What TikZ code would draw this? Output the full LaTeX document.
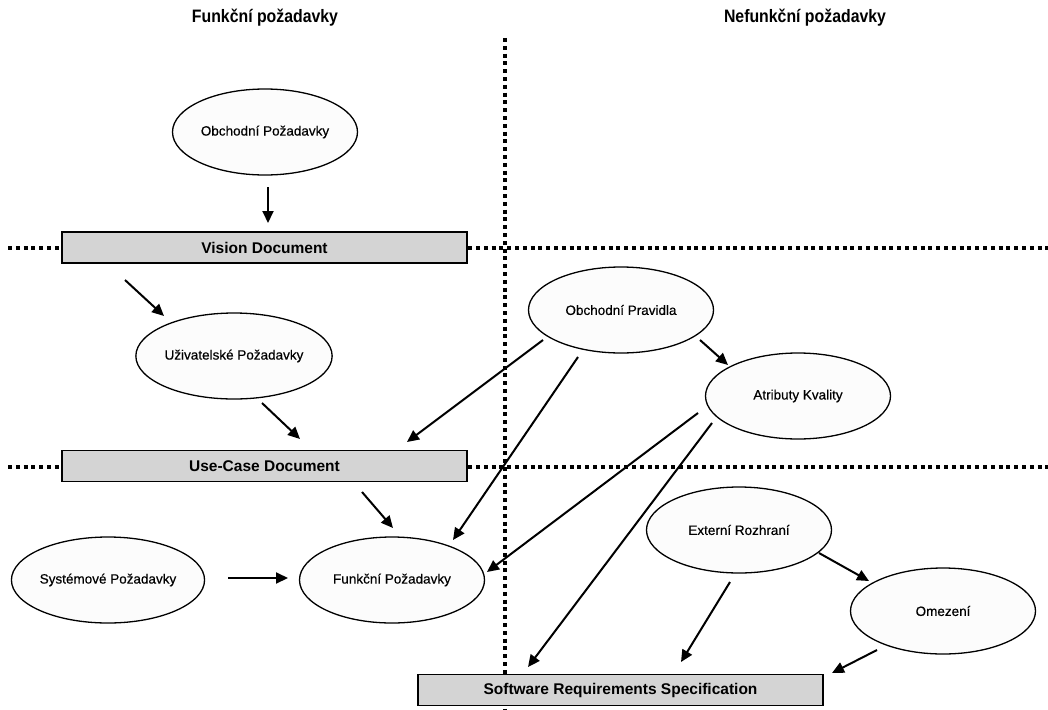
\documentclass[tikz,border=0pt]{standalone}
\usepackage{fontspec}
\setmainfont{Liberation Sans}
\newfontfamily\headfont[FakeStretch=0.88]{Liberation Sans}
\newfontfamily\labelfont[FakeBold=0.4]{Liberation Sans}
\usetikzlibrary{arrows.meta,shapes.geometric}
\definecolor{boxgray}{HTML}{D4D4D4}
\definecolor{ellfill}{HTML}{FCFCFC}
\begin{document}
\begin{tikzpicture}[x=1pt,y=-1pt,
  ell/.style={ellipse,draw,line width=1.3pt,fill=ellfill,minimum width=185pt,minimum height=86pt,inner sep=0pt,
    font=\labelfont\fontsize{13.5}{15}\selectfont},
  docbox/.style={rectangle,draw,line width=1.3pt,fill=boxgray,minimum height=31pt,inner sep=0pt,
    font=\fontsize{15.5}{17}\selectfont\bfseries},
  heading/.style={font=\headfont\fontsize{18}{20}\selectfont\bfseries},
  arr/.style={line width=2pt,-{Triangle[length=12pt,width=11pt]}},
  sep/.style={line width=4pt,dash pattern=on 4pt off 3.8pt}]
\useasboundingbox (0,0) rectangle (1048,709);

% column headings
\node[heading] (hf) at (265,18) {Funkční požadavky};
\node[heading] (hn) at (805,18) {Nefunkční požadavky};

% separators between the levels and the two columns
\draw[sep] (505,38) -- (505,709);
\draw[sep] (8,248) -- (1048,248);
\draw[sep] (8,467) -- (1048,467);

% documents
\node[docbox,minimum width=405pt] (vd) at (264.5,247.5) {Vision Document};
\node[docbox,minimum width=405pt] (uc) at (264.5,466) {Use-Case Document};
\node[docbox,minimum width=405pt] (srs) at (620.5,690) {Software Requirements Specification};

% requirement kinds
\node[ell] (obp) at (265,132) {Obchodní Požadavky};
\node[ell] (uzp) at (234,356) {Uživatelské Požadavky};
\node[ell] (syp) at (108,580) {Systémové Požadavky};
\node[ell] (fup) at (392,580) {Funkční Požadavky};
\node[ell] (opr) at (621,310) {Obchodní Pravidla};
\node[ell] (atk) at (798,396) {Atributy Kvality};
\node[ell] (exr) at (739,530) {Externí Rozhraní};
\node[ell] (omz) at (943,611) {Omezení};

% arrow end points
\coordinate (a1s) at (268,187);  \coordinate (a1e) at (268,223);
\coordinate (a2s) at (125,280);  \coordinate (a2e) at (164,316);
\coordinate (a3s) at (262,403);  \coordinate (a3e) at (300,439);
\coordinate (a4s) at (543,340);  \coordinate (a4e) at (407,442);
\coordinate (a5s) at (578,357);  \coordinate (a5e) at (453,540);
\coordinate (a6s) at (700,340);  \coordinate (a6e) at (728,365);
\coordinate (a7s) at (698,413);  \coordinate (a7e) at (487,572);
\coordinate (a8s) at (712,423);  \coordinate (a8e) at (528,667);
\coordinate (a9s) at (362,492);  \coordinate (a9e) at (393,528);
\coordinate (a10s) at (228,578); \coordinate (a10e) at (288,578);
\coordinate (a11s) at (819,553); \coordinate (a11e) at (869,581);
\coordinate (a12s) at (730,582); \coordinate (a12e) at (681,662);
\coordinate (a13s) at (877,650); \coordinate (a13e) at (832,673);

% flows
\draw[arr] (a1s) -- (a1e);
\draw[arr] (a2s) -- (a2e);
\draw[arr] (a3s) -- (a3e);
\draw[arr] (a4s) -- (a4e);
\draw[arr] (a5s) -- (a5e);
\draw[arr] (a6s) -- (a6e);
\draw[arr] (a7s) -- (a7e);
\draw[arr] (a8s) -- (a8e);
\draw[arr] (a9s) -- (a9e);
\draw[arr] (a10s) -- (a10e);
\draw[arr] (a11s) -- (a11e);
\draw[arr] (a12s) -- (a12e);
\draw[arr] (a13s) -- (a13e);
\end{tikzpicture}
\end{document}
